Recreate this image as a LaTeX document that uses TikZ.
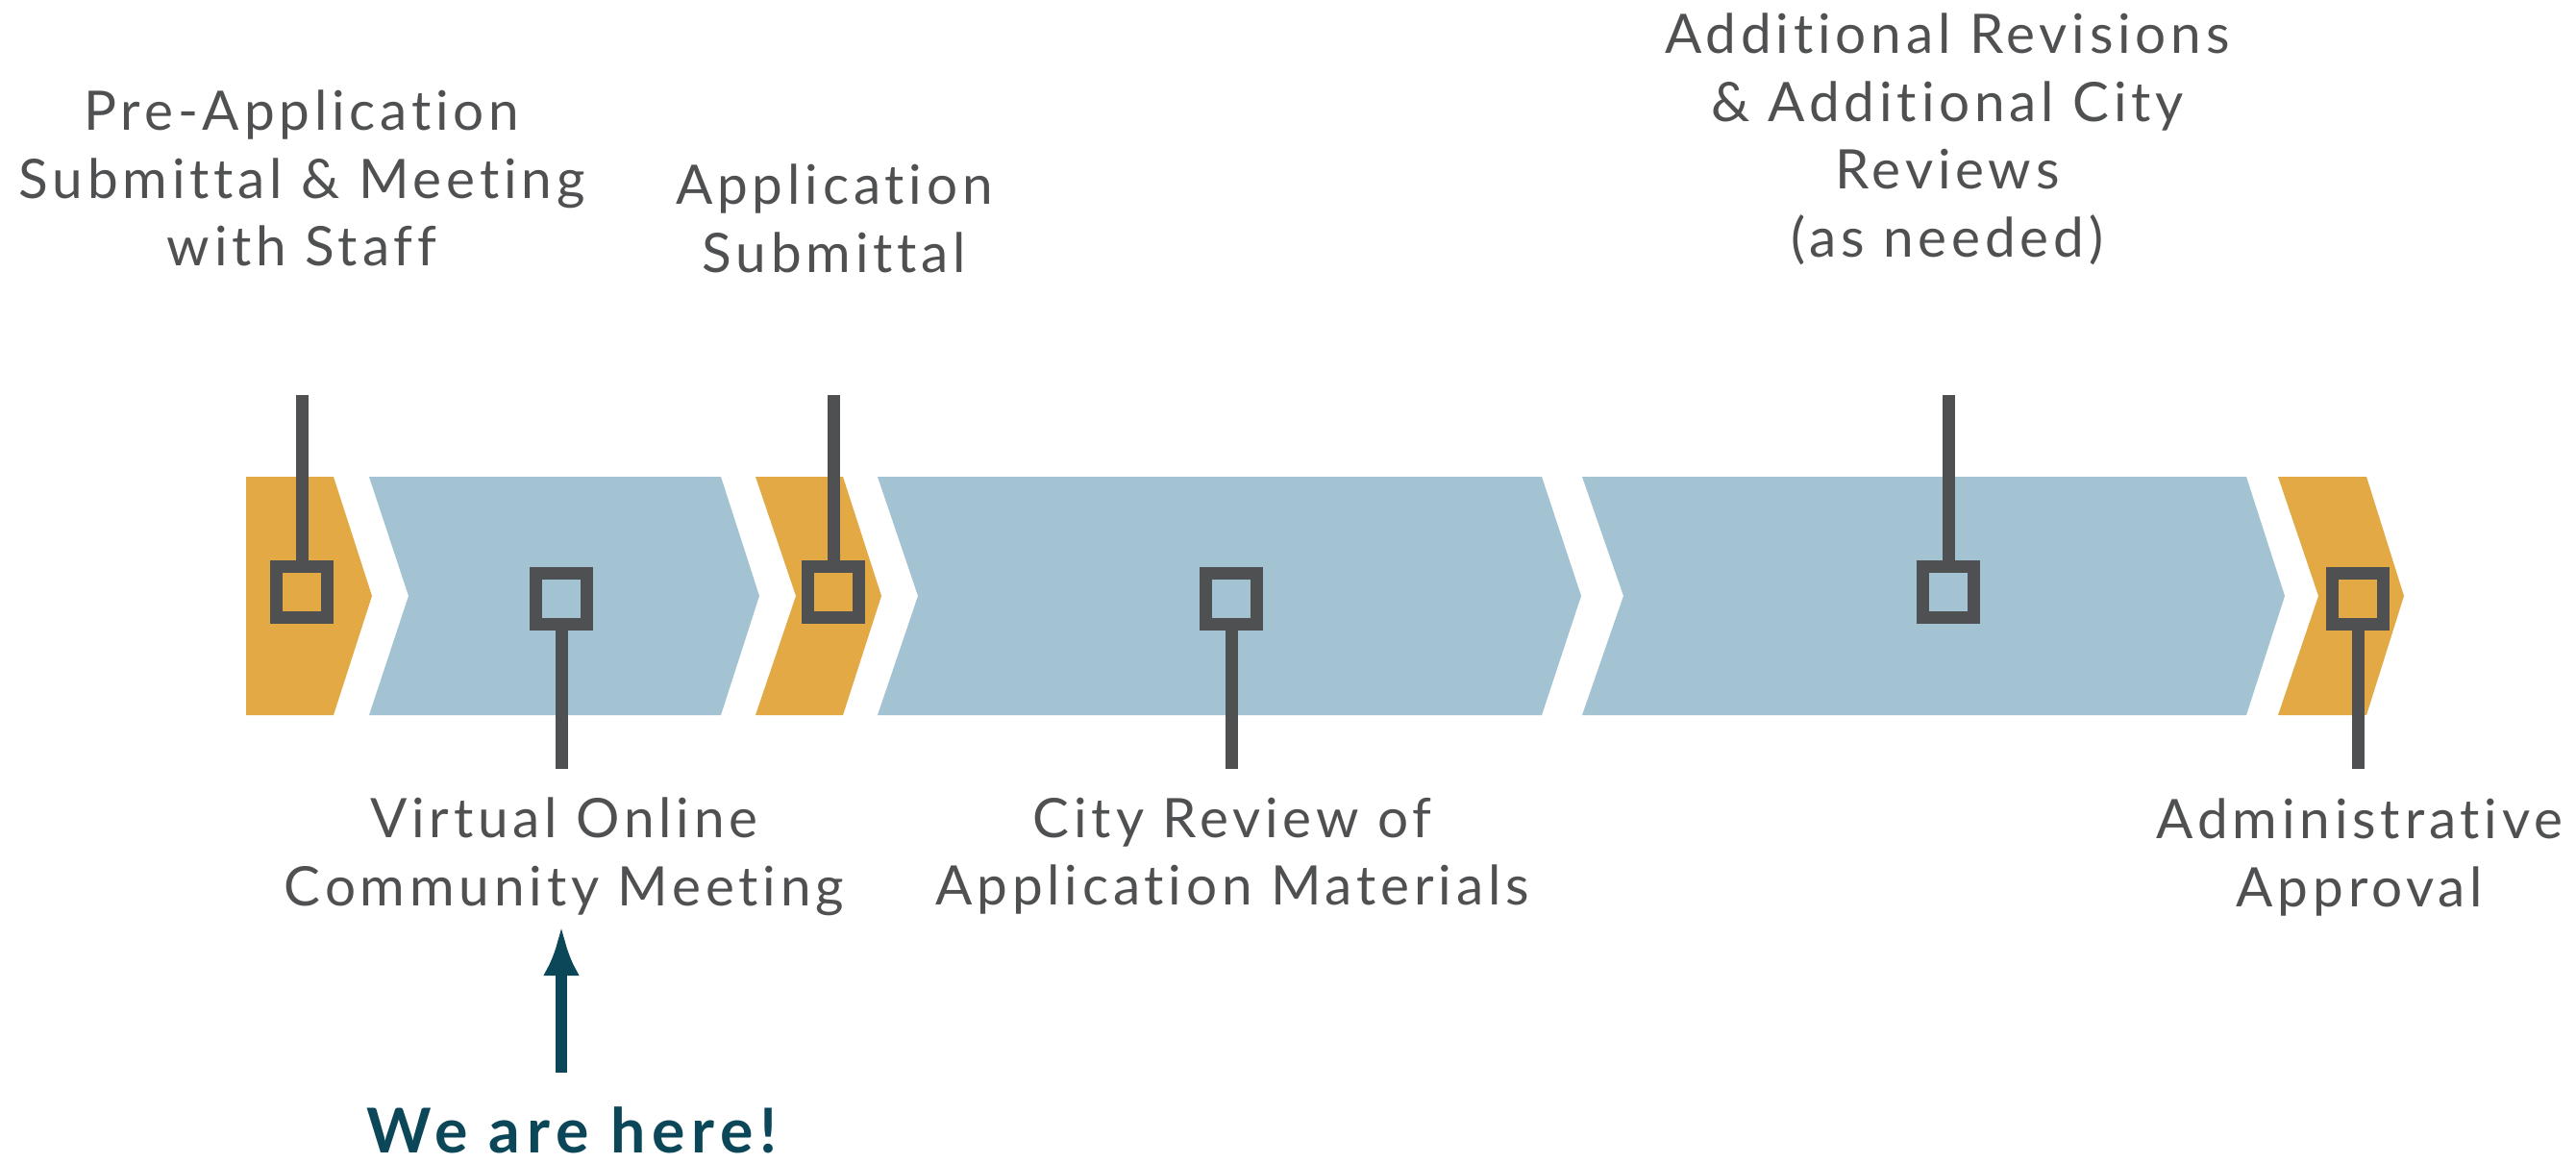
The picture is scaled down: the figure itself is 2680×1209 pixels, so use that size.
\documentclass[tikz,border=0pt]{standalone}
\usepackage{fontspec}
\setmainfont{Lato}[LetterSpace=8.5,Ligatures={NoCommon,NoRare}]
\usetikzlibrary{arrows.meta}
\definecolor{ocker}{HTML}{E3A945}
\definecolor{hellblau}{HTML}{A3C2D2}
\definecolor{dunkelgrau}{HTML}{4F5052}
\definecolor{petrol}{HTML}{0B4758}
\begin{document}
\begin{tikzpicture}[x=0.3pt,y=-0.3pt,
	kasten/.style={draw=dunkelgrau,line width=3.9pt,minimum size=15.9pt,inner sep=0pt,outer sep=0pt},
	stiel/.style={draw=dunkelgrau,line width=3.9pt},
	txt/.style={text=dunkelgrau,font=\fontsize{17}{21.2}\selectfont,align=center,inner sep=0pt,anchor=north}]
	\useasboundingbox (0,0) rectangle (2680,1209);
	
	%Phasen
	\fill[ocker] (256,496) -- (347,496) -- (387,620) -- (347,744) -- (256,744) -- cycle;
	\fill[hellblau] (384,496) -- (750,496) -- (790,620) -- (750,744) -- (384,744) -- (425,620) -- cycle;
	\fill[ocker] (786,496) -- (877,496) -- (917,620) -- (877,744) -- (786,744) -- (828,620) -- cycle;
	\fill[hellblau] (913,496) -- (1604,496) -- (1645,620) -- (1604,744) -- (913,744) -- (955,620) -- cycle;
	\fill[hellblau] (1646,496) -- (2337,496) -- (2377,620) -- (2337,744) -- (1646,744) -- (1689,620) -- cycle;
	\fill[ocker] (2370,496) -- (2462,496) -- (2501,620) -- (2462,744) -- (2370,744) -- (2412,620) -- cycle;
	
	%Kaesten
	\node[kasten] (k1) at (314,615.5) {};
	\node[kasten] (k2) at (584,622.5) {};
	\node[kasten] (k3) at (867,615.5) {};
	\node[kasten] (k4) at (1281,622.5) {};
	\node[kasten] (k5) at (2027,615.5) {};
	\node[kasten] (k6) at (2453,622.5) {};
	
	%Stiele oben
	\coordinate (o1) at (314,411);
	\coordinate (o3) at (867,411);
	\coordinate (o5) at (2027,411);
	\draw[stiel] (k1.north) -- (o1);
	\draw[stiel] (k3.north) -- (o3);
	\draw[stiel] (k5.north) -- (o5);
	
	%Stiele unten
	\coordinate (u2) at (584,800);
	\coordinate (u4) at (1281,800);
	\coordinate (u6) at (2453,800);
	\draw[stiel] (k2.south) -- (u2);
	\draw[stiel] (k4.south) -- (u4);
	\draw[stiel] (k6.south) -- (u6);
	
	%Beschriftung
	\node[txt] (pre) at (314,93) {Pre-Application\\Submittal \& Meeting\\with Staff};
	\node[txt] (app) at (868,170) {Application\\Submittal};
	\node[txt] (rev) at (2026,13) {Additional Revisions\\\& Additional City\\Reviews\\(as needed)};
	\node[txt] (vom) at (587,829) {Virtual Online\\Community Meeting};
	\node[txt] (crv) at (1282,829) {City Review of\\Application Materials};
	\node[txt] (adm) at (2455,830) {Administrative\\Approval};
	
	%Wir sind hier
	\node[text=petrol,font=\fontsize{19.3}{23}\selectfont\bfseries\addfontfeatures{LetterSpace=10.5},anchor=base,inner sep=0pt] (here) at (595,1199) {We are here!};
	\draw[petrol,line width=3.75pt,-{Latex[length=15.6pt,width=11.3pt]},shorten <=10.5pt,shorten >=3pt] (here.north -| k2) -- (vom.south -| k2);
\end{tikzpicture}
\end{document}
